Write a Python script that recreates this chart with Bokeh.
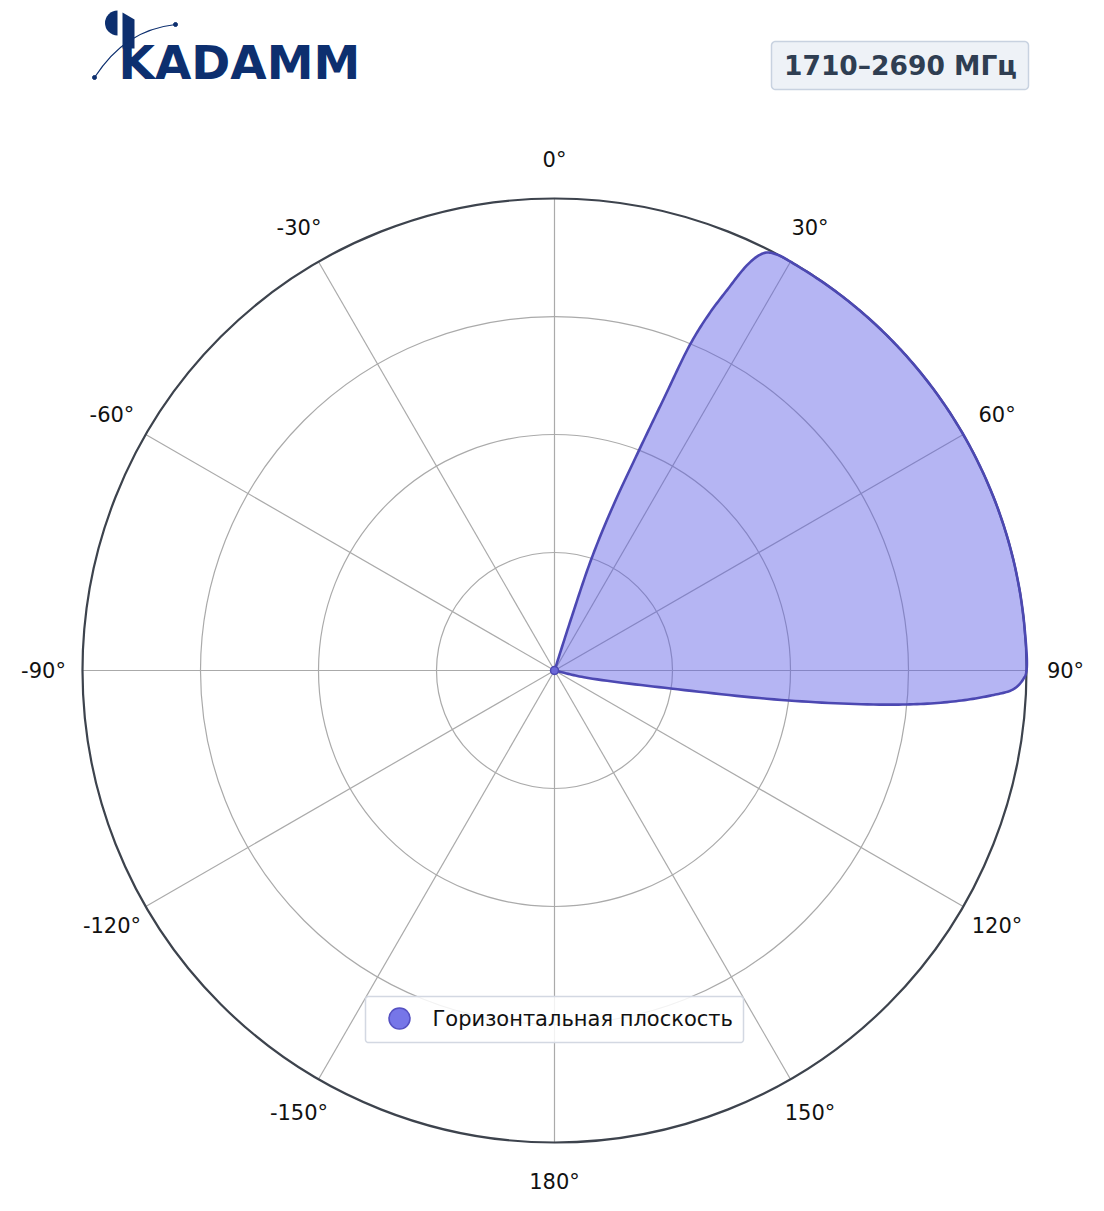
import numpy as np
from bokeh.plotting import figure
from bokeh.models import Range1d
from bokeh.core.properties import value
from bokeh.embed import file_html
from bokeh.resources import INLINE

# ---------------- data ----------------
theta_deg = [0, 17.6, 17.8, 18.3, 19.6, 21.0, 21.9, 22.6, 23.45, 24.4, 25.4, 26.2, 27.0, 28.5,
             30, 35, 40, 45, 50, 55, 60, 65, 70, 75, 80, 85, 90,
             91.0, 92.3, 93.3, 94.6, 95.8, 97.3, 98.8, 102.9, 104, 360]
gain = [0.0, 0.0, 0.12, 0.25, 0.37, 0.50, 0.62, 0.75, 0.824, 0.885, 0.95, 0.98, 0.994, 1.0,
        1.0, 1.0, 1.0, 1.0, 1.0, 1.0, 1.0, 1.0, 1.0, 1.0, 1.0, 1.0, 1.0,
        0.994, 0.974, 0.925, 0.835, 0.716, 0.50, 0.249, 0.064, 0.0, 0.0]
ring_values = [0.25, 0.5, 0.75]
spoke_angles = [0, 30, 60, 90, 120, 150, 180, 210, 240, 270, 300, 330]
spoke_labels = ["0°", "30°", "60°", "90°", "120°", "150°", "180°",
                "-150°", "-120°", "-90°", "-60°", "-30°"]
title_text = "1710–2690 МГц"
legend_text = "Горизонтальная плоскость"
logo_text = "KADAMM"

# ---------------- geometry ----------------
W, H = 1100, 1205
R = 472.0          # px per radial unit
CX, CY = 554, 670  # centre within figure (px)


def PX(x):  # page px -> data
    return (x - CX) / R


def PY(y):
    return (CY - y) / R


def rounded_box(x0, y0, x1, y1, rad, n=8):
    """outline of a rounded rectangle given in page px"""
    pts = []
    corners = [(x1 - rad, y0 + rad, -90, 0), (x1 - rad, y1 - rad, 0, 90),
               (x0 + rad, y1 - rad, 90, 180), (x0 + rad, y0 + rad, 180, 270)]
    for cx, cy, a0, a1 in corners:
        for a in np.linspace(np.radians(a0), np.radians(a1), n):
            pts.append((cx + rad * np.cos(a), cy + rad * np.sin(a)))
    return [PX(x) for x, _ in pts], [PY(y) for _, y in pts]


def smooth(px, py, n=16, a=0.5):
    """centripetal Catmull-Rom rendering of the outline through the data points"""
    P = np.column_stack([px, py])
    keep = [0]
    for i in range(1, len(P)):
        if np.hypot(*(P[i] - P[keep[-1]])) > 1e-9:
            keep.append(i)
    P = P[keep]
    P = np.vstack([2 * P[0] - P[1], P, 2 * P[-1] - P[-2]])
    out = []
    for i in range(1, len(P) - 2):
        p0, p1, p2, p3 = P[i - 1], P[i], P[i + 1], P[i + 2]
        t0 = 0.0
        t1 = t0 + np.hypot(*(p1 - p0)) ** a
        t2 = t1 + np.hypot(*(p2 - p1)) ** a
        t3 = t2 + np.hypot(*(p3 - p2)) ** a
        for t in np.linspace(t1, t2, n, endpoint=False):
            A1 = (t1 - t) / (t1 - t0) * p0 + (t - t0) / (t1 - t0) * p1
            A2 = (t2 - t) / (t2 - t1) * p1 + (t - t1) / (t2 - t1) * p2
            A3 = (t3 - t) / (t3 - t2) * p2 + (t - t2) / (t3 - t2) * p3
            B1 = (t2 - t) / (t2 - t0) * A1 + (t - t0) / (t2 - t0) * A2
            B2 = (t3 - t) / (t3 - t1) * A2 + (t - t1) / (t3 - t1) * A3
            out.append((t2 - t) / (t2 - t1) * B1 + (t - t1) / (t2 - t1) * B2)
    out.append(P[-2])
    out = np.array(out)
    return out[:, 0], out[:, 1]


p = figure(width=W, height=H, output_backend="svg", toolbar_location=None,
           x_range=Range1d(-CX / R, (W - CX) / R),
           y_range=Range1d(-(H - CY) / R, CY / R),
           min_border=0, background_fill_color="white", border_fill_color="white")
p.axis.visible = False
p.grid.visible = False
p.outline_line_color = None

# grid rings
p.circle(x=[0] * len(ring_values), y=[0] * len(ring_values), radius=ring_values,
         fill_color=None, line_color="#aaaaaa", line_width=1.2)
# spokes
th = np.radians(spoke_angles)
p.segment(x0=[0] * len(th), y0=[0] * len(th), x1=np.sin(th), y1=np.cos(th),
          line_color="#aaaaaa", line_width=1.2)
# outer circle
p.circle(x=[0], y=[0], radius=[1.0], fill_color=None, line_color="#3d434d", line_width=2.2)

# angle labels
lr = 511 / R
p.text(x=lr * np.sin(th), y=lr * np.cos(th), text=spoke_labels,
       text_font=value("DejaVu Sans"), text_font_size="21px", text_color="#111111",
       text_align="center", text_baseline="middle")

# data polygon
t = np.radians(theta_deg)
g = np.array(gain)
xs, ys = smooth(g * np.sin(t), g * np.cos(t))
p.patch(x=xs, y=ys, fill_color="#5a5ae4", fill_alpha=0.45, line_color=None)
p.line(x=xs, y=ys, line_color="#4c48b2", line_width=2.6, line_join="round")
p.scatter(x=[0], y=[0], size=8, marker="circle", fill_color="#6c68d8",
          line_color="#4c48b2", line_width=1.5)

# title box
bx, by = rounded_box(771, 41, 1028, 89, 4)
p.patch(x=bx, y=by, fill_color="#eef2f7", line_color="#c8d2e0", line_width=1.5)
p.text(x=[PX(900)], y=[PY(65)], text=[title_text], text_font=value("DejaVu Sans"),
       text_font_size="26.5px", text_font_style="bold", text_color="#2f3e52",
       text_align="center", text_baseline="middle")

# legend
lx, ly = rounded_box(365, 996, 743, 1042, 3)
p.patch(x=lx, y=ly, fill_color="white", fill_alpha=0.85, line_color="#d3d8e2",
        line_width=1.5)
p.scatter(x=[PX(399)], y=[PY(1018)], size=21, marker="circle", fill_color="#7676e8",
          line_color="#5551c2", line_width=1.5)
p.text(x=[PX(432)], y=[PY(1018)], text=[legend_text], text_font=value("DejaVu Sans"),
       text_font_size="21px", text_color="#111111", text_align="left",
       text_baseline="middle")

# logo
navy = "#0d2f6f"
p.text(x=[PX(118)], y=[PY(62)], text=[logo_text], text_font=value("DejaVu Sans"),
       text_font_size="47px", text_font_style="bold", text_color=navy,
       text_align="left", text_baseline="middle")
p.patch(x=[PX(122), PX(134), PX(134), PX(122)], y=[PY(12), PY(19), PY(48), PY(48)],
        fill_color=navy, line_color=None)
p.wedge(x=[PX(117)], y=[PY(22.5)], radius=12.5 / R, start_angle=np.pi / 2,
        end_angle=3 * np.pi / 2, fill_color=navy, line_color=None)
p.bezier(x0=[PX(94)], y0=[PY(77)], x1=[PX(175)], y1=[PY(24)],
         cx0=[PX(115)], cy0=[PY(45)], cx1=[PX(140)], cy1=[PY(28)],
         line_color=navy, line_width=1.2)
p.scatter(x=[PX(94), PX(175)], y=[PY(77), PY(24)], size=4, marker="circle",
          fill_color=navy, line_color=navy)

open("out.html", "w").write(file_html(p, INLINE))
